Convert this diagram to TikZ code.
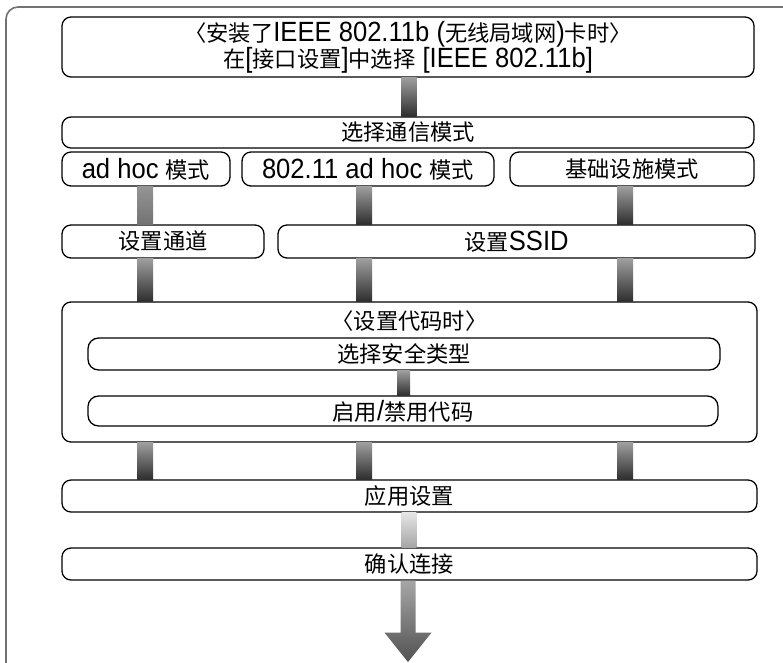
\documentclass[tikz,border=0pt]{standalone}
\usepackage{fontspec}
\setmainfont{Noto Sans CJK SC}
\newfontfamily\latinfont[Scale=1.25, FakeStretch=0.92]{Liberation Sans}
\newcommand\latn[1]{{\latinfont #1}}
\usetikzlibrary{calc}

\begin{document}
\begin{tikzpicture}[
    x=0.03cm, y=-0.03cm,
    box/.style={rectangle, draw, line width=1.1pt, rounded corners=0.27cm, inner sep=0pt, font=\fontsize{19}{23}\selectfont},
    pill/.style={box, rounded corners=0.32cm},
    conn/.style={top color=black!38, bottom color=black!82, draw=none},
    connpale/.style={top color=black!42, bottom color=black!55, draw=none},
    connlight/.style={top color=black!10, bottom color=black!35, draw=none},
    arrowfill/.style={top color=black!35, bottom color=black!68, draw=none}
]
    \useasboundingbox (0,0) rectangle (783,662);
    % outer frame, runs off the page
    \draw[line width=1.4pt, black!55, rounded corners=0.36cm] (6,7) rectangle (820,700);

    % columns of the bars
    \coordinate (cA) at (145,0);
    \coordinate (cB) at (364,0);
    \coordinate (cC) at (625,0);
    \coordinate (cM) at (409,0);

    % boxes
    \node[box, minimum width=20.76cm, minimum height=1.8cm, align=center] (card) at (408,47)
        {〈安装了\latn{IEEE 802.11b (}无线局域网\latn{)}卡时〉\\[-1pt]在\latn{[}接口设置\latn{]}中选择\latn{ [IEEE 802.11b]}};
    \node[box, minimum width=20.76cm, minimum height=0.93cm] (sel) at (408,132.5) {选择通信模式};
    \node[box, minimum width=5.04cm, minimum height=1.02cm] (adhoc) at (146,169) {\latn{ad hoc }模式};
    \node[box, minimum width=7.56cm, minimum height=1.02cm] (dot11) at (368,169) {\latn{802.11 ad hoc }模式};
    \node[box, minimum width=7.32cm, minimum height=1.02cm] (infra) at (632,169) {基础设施模式};
    \node[box, minimum width=6.06cm, minimum height=0.99cm] (chan) at (163,241.5) {设置通道};
    \node[box, minimum width=14.31cm, minimum height=0.99cm] (ssid) at (516.5,241.5) {设置\latn{SSID}};

    \node[box, minimum width=20.85cm, minimum height=4.2cm] (code) at (409.5,372) {};
    \node[font=\fontsize{19}{23}\selectfont, inner sep=0pt] (codetitle) at (409.5,321) {〈设置代码时〉};
    \node[pill, minimum width=18.96cm, minimum height=0.96cm] (sectype) at (404,354) {选择安全类型};
    \node[pill, minimum width=18.9cm, minimum height=0.9cm] (enable) at (403,411) {启用\latn{/}禁用代码};

    \node[box, minimum width=20.85cm, minimum height=0.96cm] (apply) at (409.5,496) {应用设置};
    \node[box, minimum width=20.85cm, minimum height=0.96cm] (confirm) at (409.5,564) {确认连接};
    \coordinate (tip) at (408,662);

    % bars between the boxes
    \shade[conn] ([xshift=-0.23cm]card.south -| cM) rectangle ([xshift=0.23cm]sel.north -| cM);
    \shade[connpale] ([xshift=-0.24cm]adhoc.south -| cA) rectangle ([xshift=0.24cm]chan.north -| cA);
    \shade[conn] ([xshift=-0.24cm]dot11.south -| cB) rectangle ([xshift=0.24cm]ssid.north -| cB);
    \shade[conn] ([xshift=-0.24cm]infra.south -| cC) rectangle ([xshift=0.24cm]ssid.north -| cC);
    \foreach \c/\n in {cA/chan, cB/ssid, cC/ssid} {
        \shade[conn] ([xshift=-0.24cm]\n.south -| \c) rectangle ([xshift=0.24cm]code.north -| \c);
        \shade[conn] ([xshift=-0.24cm]code.south -| \c) rectangle ([xshift=0.24cm]apply.north -| \c);
    }
    \shade[conn] ([xshift=-0.21cm]sectype.south) rectangle ([xshift=0.21cm]enable.north);
    \shade[connlight] ([xshift=-0.22cm]apply.south -| cM) rectangle ([xshift=0.22cm]confirm.north -| cM);

    % final arrow
    \coordinate (base) at (confirm.south -| tip);
    \shade[arrowfill] ($(base)+(-7.5,0)$) -- ($(base)+(7.5,0)$) -- ($(base)+(7.5,52)$)
        -- ($(base)+(23.5,52)$) -- (tip) -- ($(base)+(-23.5,52)$) -- ($(base)+(-7.5,52)$) -- cycle;
\end{tikzpicture}
\end{document}
